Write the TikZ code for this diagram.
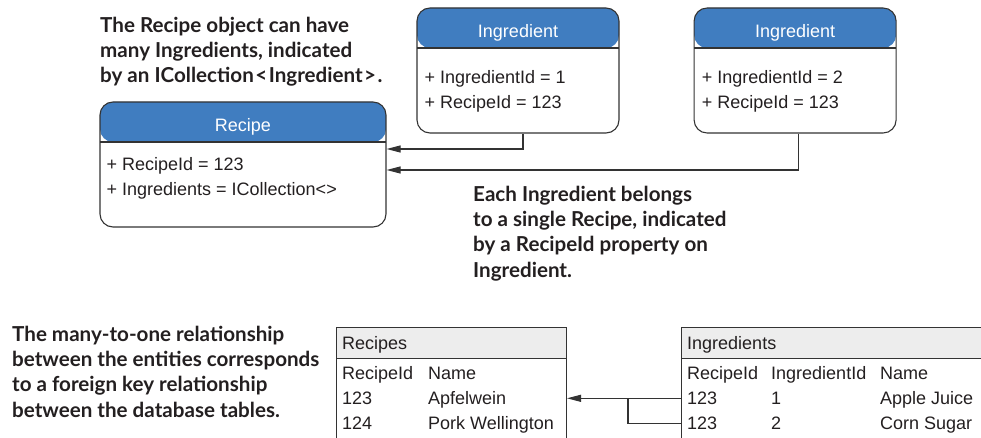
\documentclass[tikz,border=0pt]{standalone}
\usepackage{fontspec}
\setmainfont{Liberation Sans}
\newfontfamily\notefont{Lato}
\usetikzlibrary{arrows.meta,positioning}

\definecolor{headblue}{RGB}{64,125,192}
\definecolor{framegray}{RGB}{51,51,51}
\definecolor{tablegray}{RGB}{237,237,237}
\definecolor{inkblack}{RGB}{35,31,32}

\tikzset{
  entity/.style={draw=framegray, line width=1.1pt, rounded corners=13pt, inner sep=0pt,
    minimum width=202pt, minimum height=125pt,
    path picture={
      \fill[headblue] (path picture bounding box.north west) rectangle ([yshift=-40pt]path picture bounding box.north east);
      \draw[framegray, line width=1.1pt] ([yshift=-40pt]path picture bounding box.north west) -- ([yshift=-40pt]path picture bounding box.north east);
    }},
  dbtable/.style={draw=framegray, line width=1pt, inner sep=0pt, anchor=north west,
    minimum height=150pt,
    path picture={
      \fill[tablegray] (path picture bounding box.north west) rectangle ([yshift=-31pt]path picture bounding box.north east);
      \draw[framegray, line width=1pt] ([yshift=-31pt]path picture bounding box.north west) -- ([yshift=-31pt]path picture bounding box.north east);
    }},
  headtext/.style={text=white, font=\fontsize{18}{22}\selectfont, inner sep=0pt, anchor=base},
  bodytext/.style={text=inkblack, font=\fontsize{18}{25}\selectfont, align=left, inner sep=0pt, anchor=north west},
  cell/.style={text=inkblack, font=\fontsize{18}{22}\selectfont, inner sep=0pt, anchor=base west},
  note/.style={text=inkblack, font=\notefont\bfseries\fontsize{20.6}{25.2}\selectfont, align=left, inner sep=0pt, anchor=north west},
  fk/.style={draw=framegray, line width=1.1pt, -{Triangle[length=14pt,width=7pt]}},
  link/.style={draw=framegray, line width=1.1pt},
}

\begin{document}
\begin{tikzpicture}[x=1pt,y=-1pt]
\useasboundingbox (0,0) rectangle (981,438);
\clip (0,0) rectangle (981,438);

% entity classes
\node[entity, minimum width=286pt] (recipe) at (243,164.5) {};
\node[entity] (ing1) at (518,70.5) {};
\node[entity, right=74pt of ing1] (ing2) {};

\node[headtext] (recipehead) at ([yshift=-30pt]recipe.north) {Recipe};
\node[headtext] (ing1head) at ([yshift=-30pt]ing1.north) {Ingredient};
\node[headtext] (ing2head) at ([yshift=-30pt]ing2.north) {Ingredient};

\node[bodytext] (recipebody) at ([xshift=7pt,yshift=-56pt]recipe.north west)
  {+ RecipeId = 123\\+ Ingredients = ICollection<>};
\node[bodytext] (ing1body) at ([xshift=8pt,yshift=-63pt]ing1.north west)
  {+ IngredientId = 1\\+ RecipeId = 123};
\node[bodytext] (ing2body) at ([xshift=8pt,yshift=-63pt]ing2.north west)
  {+ IngredientId = 2\\+ RecipeId = 123};

% navigation properties
\draw[fk] ([xshift=5pt]ing1.south) |- ([yshift=15.5pt]recipe.east);
\draw[fk] ([xshift=3pt]ing2.south) |- ([yshift=-5.5pt]recipe.east);

% notes
\node[note] (objnote) at (100,17)
  {The Recipe object can have\\many Ingredients, indicated\\by an ICollection\kern1.5pt<\kern1.5pt Ingredient\kern1.5pt>\kern1.5pt.};
\node[note] (fknote) at (473,186)
  {Each Ingredient belongs\\to a single Recipe, indicated\\by a RecipeId property on\\Ingredient.};
\node[note] (dbnote) at (12,326)
  {The many-to-one relationship\\between the entities corresponds\\to a foreign key relationship\\between the database tables.};

% database tables
\node[dbtable, minimum width=230pt] (rectab) at (336,327) {};
\node[dbtable, minimum width=400pt] (ingtab) at (681,327) {};

\node[cell] (rectitle) at (342,349.5) {Recipes};
\node[cell] (recidh) at (342,379.5) {RecipeId};
\node[cell] (recnameh) at (428,379.5) {Name};
\node[cell] (recid1) at (342,404.5) {123};
\node[cell] (recname1) at (428,404.5) {Apfelwein};
\node[cell] (recid2) at (342,429.5) {124};
\node[cell] (recname2) at (428,429.5) {Pork Wellington};

\node[cell] (ingtitle) at (687,349.5) {Ingredients};
\node[cell] (ingrech) at (687,379.5) {RecipeId};
\node[cell] (ingidh) at (771,379.5) {IngredientId};
\node[cell] (ingnameh) at (880,379.5) {Name};
\node[cell] (ingrow1) at (687,404.5) {123};
\node[cell] (ingid1) at (771,404.5) {1};
\node[cell] (ingname1) at (880,404.5) {Apple Juice};
\node[cell] (ingrow2) at (687,429.5) {123};
\node[cell] (ingid2) at (771,429.5) {2};
\node[cell] (ingname2) at (880,429.5) {Corn Sugar};

% foreign key
\draw[fk] (ingtab.west |- ingrow1) -- (rectab.east |- ingrow1);
\draw[link] (ingtab.west |- ingrow2) -| ([xshift=-53pt]ingtab.west |- ingrow1);
\end{tikzpicture}
\end{document}
